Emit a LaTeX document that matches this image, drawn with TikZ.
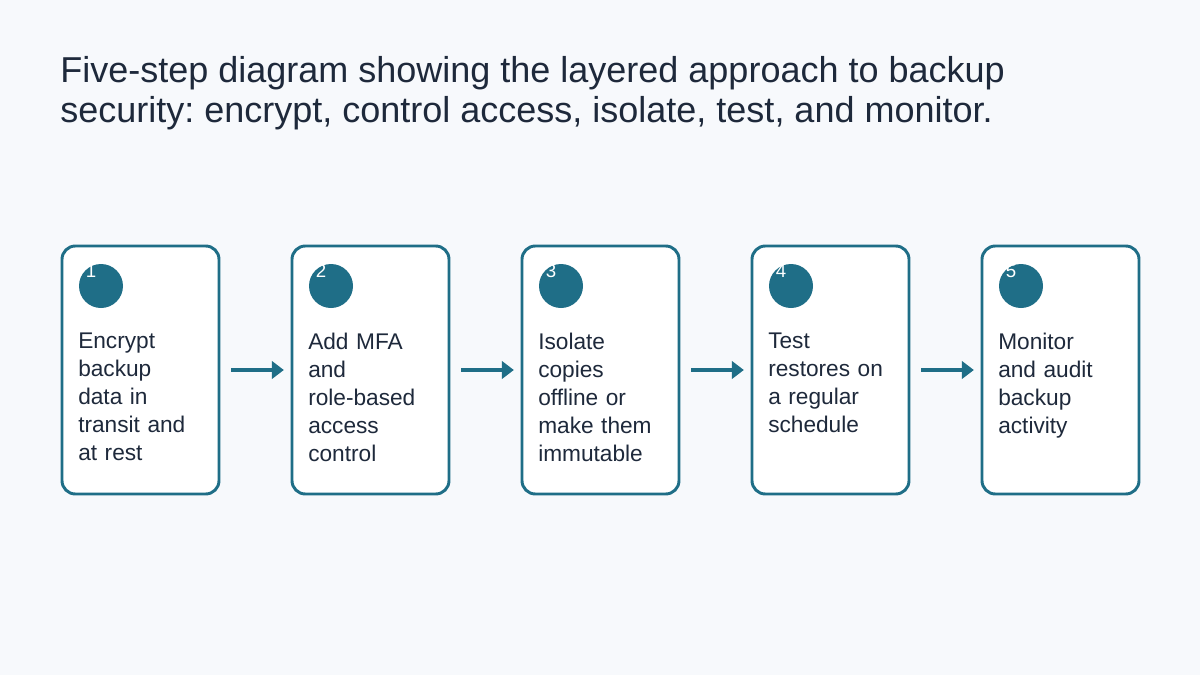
\documentclass[tikz,border=0pt]{standalone}
\usepackage{fontspec}
\setmainfont{Liberation Sans}
\frenchspacing
\usetikzlibrary{arrows.meta}
\definecolor{bg}{HTML}{F7F9FC}
\definecolor{teal}{HTML}{1F6E87}
\definecolor{ink}{HTML}{1E293B}
\begin{document}
\begin{tikzpicture}[x=0.75pt,y=-0.75pt,
 box/.style={draw=teal,line width=2.2pt,fill=white,rounded corners=10pt,minimum width=117.75pt,minimum height=186pt,inner sep=0pt},
 dot/.style={circle,fill=teal,minimum size=33pt,inner sep=0pt},
 num/.style={text=white,font=\fontsize{14}{15}\selectfont,inner sep=0pt},
 lbl/.style={text=ink,font=\fontsize{17}{21}\selectfont,align=left,anchor=north west,inner sep=0pt,text width=110pt},
 arr/.style={draw=teal,line width=2.6pt,-{Triangle[length=9pt,width=13pt]}}]
\fill[bg] (0,0) rectangle (1200,675);
\useasboundingbox (0,0) rectangle (1200,675);
\node[text=ink,anchor=north west,align=left,inner sep=0pt,font=\fontsize{27}{30}\selectfont] (title) at (60,56)
 {Five-step diagram showing the layered approach to backup\\security: encrypt, control access, isolate, test, and monitor.};
\foreach \i/\t in {1/{Encrypt\\backup\\data in\\transit and\\at rest},2/{Add MFA\\and\\role-based\\access\\control},3/{Isolate\\copies\\offline or\\make them\\immutable},4/{Test\\restores on\\a regular\\schedule},5/{Monitor\\and audit\\backup\\activity}}{
 \pgfmathsetmacro\xx{62+230*(\i-1)}
 \node[box] (b\i) at (\xx+78.5,370) {};
 \node[dot] (c\i) at (\xx+39,286) {};
 \node[num] (n\i) at (\xx+29,271) {\i};
 \node[lbl] (l\i) at (\xx+16,333) {\t};
}
\foreach \i/\j in {1/2,2/3,3/4,4/5}{
 \draw[arr] ([xshift=8pt]b\i.east) -- ([xshift=-5pt]b\j.west);
}
\end{tikzpicture}
\end{document}
